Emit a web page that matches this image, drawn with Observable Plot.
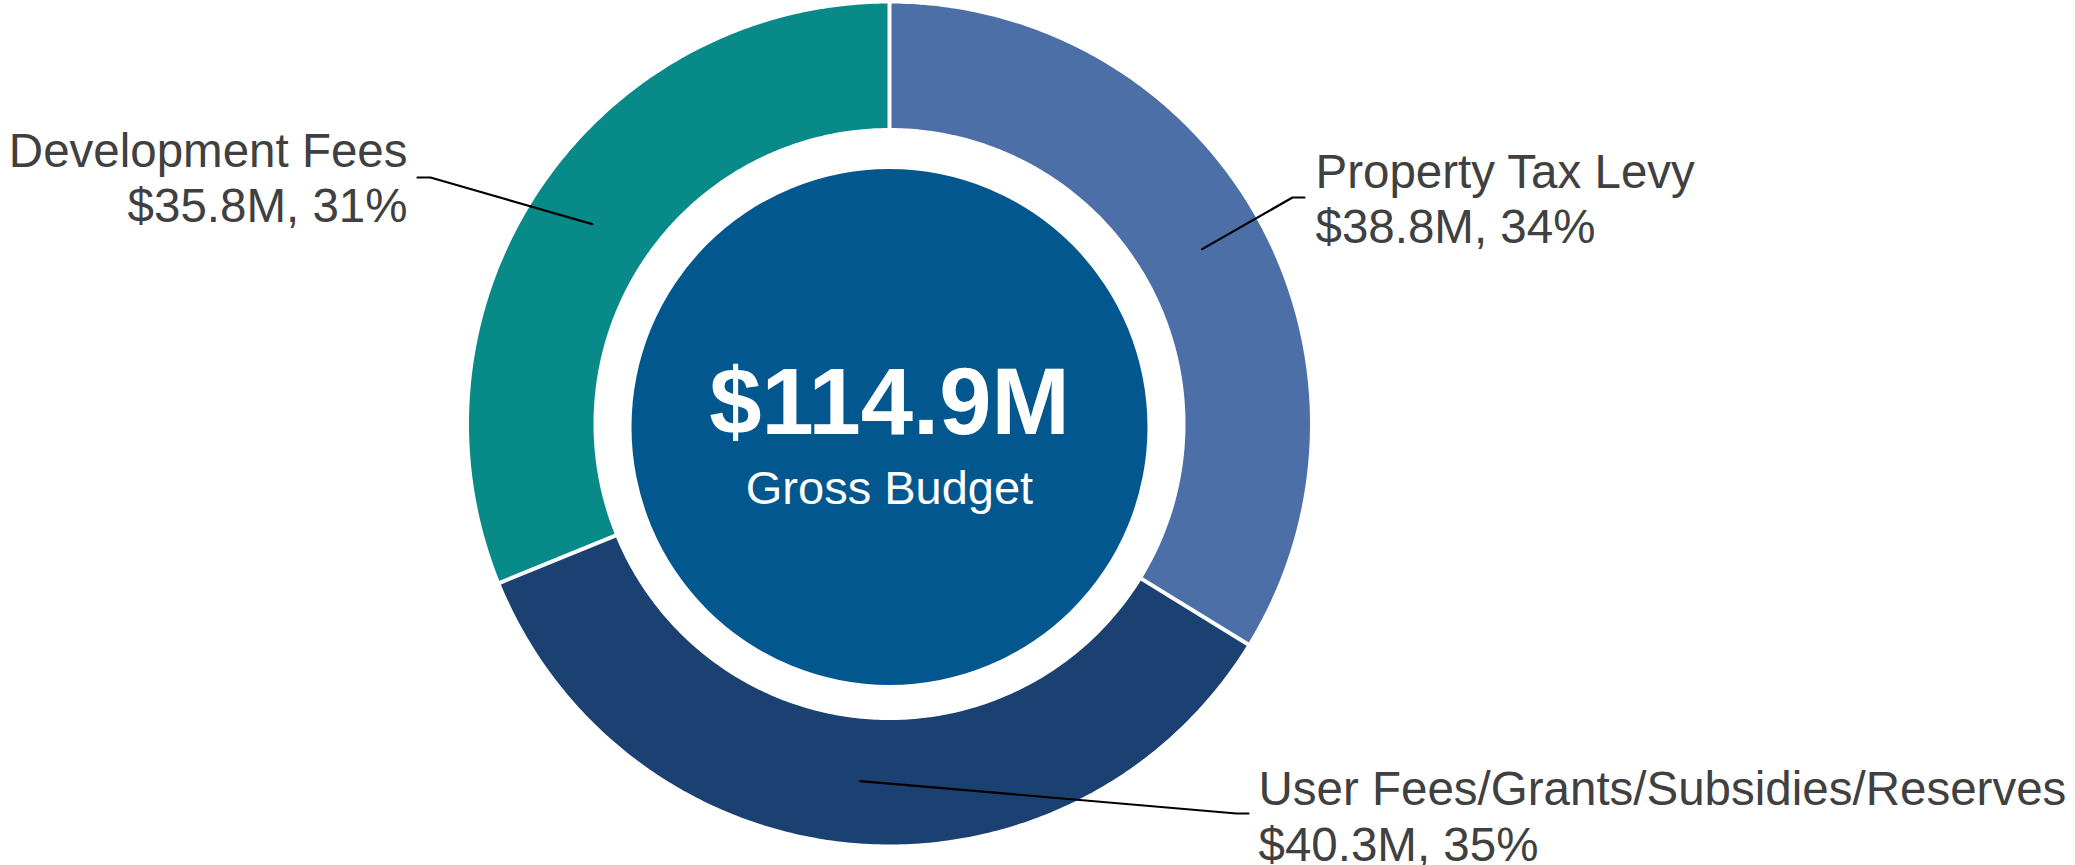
<!DOCTYPE html>
<html>
<head>
<meta charset="utf-8">
<script src="https://cdn.jsdelivr.net/npm/d3@7"></script>
<script src="https://cdn.jsdelivr.net/npm/@observablehq/plot@0.6"></script>
<style>
  html, body { margin: 0; padding: 0; background: #ffffff; }
  #chart { width: 2075px; height: 865px; }
</style>
</head>
<body>
<div id="chart"></div>
<script>
// ---- Data ----
const categories = ["Property Tax Levy", "User Fees/Grants/Subsidies/Reserves", "Development Fees"];
const values = [38.8, 40.3, 35.8];          // $M
const percents = [34, 35, 31];              // %
const colors = ["#4C6FA8", "#1B4072", "#088A88"];
const totalLabel = "$114.9M";
const centerSub = "Gross Budget";

// ---- Layout (pixels) ----
const W = 2075, H = 865;
const cx = 889, cy = 423.5, R = 420.5, r0 = 296, rCenter = 258;
const labelLayout = [
  {x: 1315, y1: 187, y2: 242, anchor: "start", elbowX: 1292, elbowEnd: 1304, elbowY: 197},
  {x: 1258, y1: 804, y2: 860, anchor: "start", elbowX: 1236, elbowEnd: 1248, elbowY: 813},
  {x: 407,  y1: 166, y2: 221, anchor: "end",   elbowX: 430,  elbowEnd: 417,  elbowY: 177}
];

const total = d3.sum(values);
const pie = d3.pie().sort(null).value(d => d)(values);
const pt = (a, rad) => ({x: cx + rad * Math.sin(a), y: cy - rad * Math.cos(a)});

// slice polygons
const slices = pie.map((p, i) => {
  const pts = [];
  const n = 200;
  for (let k = 0; k <= n; k++) {
    const a = p.startAngle + (p.endAngle - p.startAngle) * k / n;
    pts.push({...pt(a, R), cat: categories[i]});
  }
  for (let k = n; k >= 0; k--) {
    const a = p.startAngle + (p.endAngle - p.startAngle) * k / n;
    pts.push({...pt(a, r0), cat: categories[i]});
  }
  return pts;
});

// separators at slice boundaries
const seps = pie.map(p => {
  const a = p.startAngle;
  const i = pt(a, r0 - 2), o = pt(a, R + 3);
  return {x1: i.x, y1: i.y, x2: o.x, y2: o.y};
});

// leader lines from slice centroid
const leaders = pie.map((p, i) => {
  const mid = (p.startAngle + p.endAngle) / 2;
  const s = pt(mid, (R + r0) / 2);
  const L = labelLayout[i];
  return [
    {x: s.x, y: s.y, k: i},
    {x: L.elbowX, y: L.elbowY, k: i},
    {x: L.elbowEnd, y: L.elbowY, k: i}
  ];
}).flat();

const line1 = categories.map((c, i) => ({x: labelLayout[i].x, y: labelLayout[i].y1, t: c, a: labelLayout[i].anchor}));
const line2 = values.map((v, i) => ({x: labelLayout[i].x, y: labelLayout[i].y2, t: `$${v.toFixed(1)}M, ${percents[i]}%`, a: labelLayout[i].anchor}));

const font = "'Liberation Sans', Arial, Helvetica, sans-serif";
const textColor = "#404040";

const marks = [];
slices.forEach((s, i) => {
  marks.push(Plot.line(s, {x: "x", y: "y", fill: colors[i], stroke: "none", curve: "linear-closed"}));
});
marks.push(Plot.link(seps, {x1: "x1", y1: "y1", x2: "x2", y2: "y2", stroke: "#ffffff", strokeWidth: 4}));
marks.push(Plot.dot([{x: cx, y: cy}], {x: "x", y: "y", r: rCenter, dy: 3, fill: "#02578E", stroke: "none"}));
marks.push(Plot.line(leaders, {x: "x", y: "y", z: "k", stroke: "#000000", strokeWidth: 2.2}));
["start", "end"].forEach(an => {
  marks.push(Plot.text(line1.filter(d => d.a === an), {x: "x", y: "y", text: "t", textAnchor: an, lineAnchor: "bottom", fontSize: 47.5, fill: textColor, fontFamily: font}));
  marks.push(Plot.text(line2.filter(d => d.a === an), {x: "x", y: "y", text: "t", textAnchor: an, lineAnchor: "bottom", fontSize: 47.5, fill: textColor, fontFamily: font}));
});
marks.push(Plot.text([{x: cx, y: 433, t: totalLabel}], {x: "x", y: "y", text: "t", textAnchor: "middle", lineAnchor: "bottom", fontSize: 94, fontWeight: "bold", fill: "#ffffff", fontFamily: font}));
marks.push(Plot.text([{x: cx, y: 503, t: centerSub}], {x: "x", y: "y", text: "t", textAnchor: "middle", lineAnchor: "bottom", fontSize: 47, fill: "#ffffff", fontFamily: font}));

const chart = Plot.plot({
  width: W,
  height: H,
  margin: 0,
  x: {domain: [0, W], range: [0, W], axis: null},
  y: {domain: [0, H], range: [0, H], axis: null},
  style: {fontFamily: font, background: "#ffffff", overflow: "visible"},
  marks
});
document.getElementById("chart").appendChild(chart);
</script>
</body>
</html>
